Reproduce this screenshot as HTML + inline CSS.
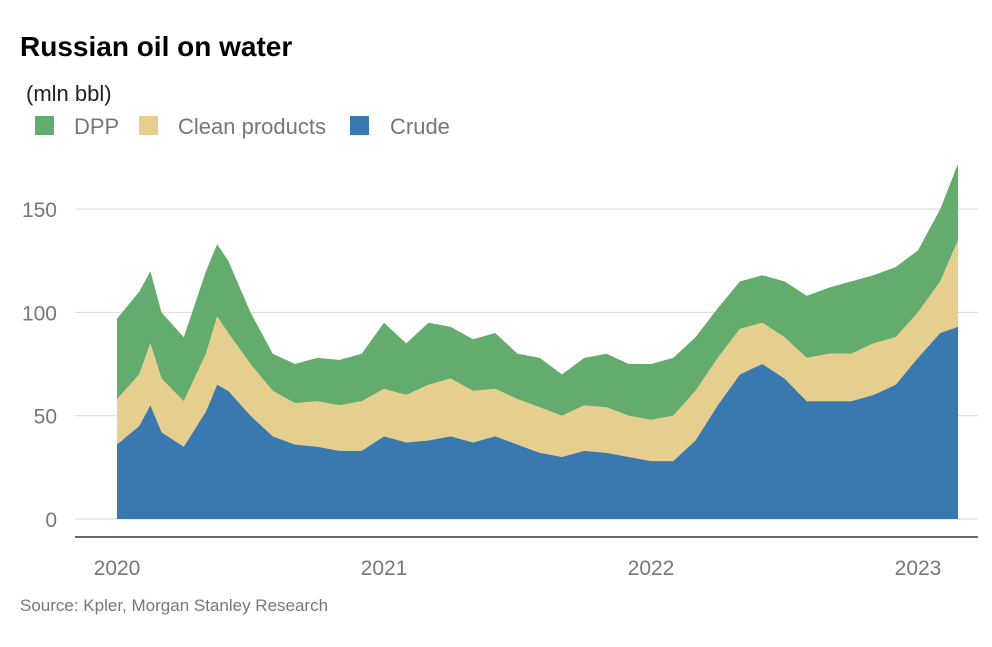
<!DOCTYPE html>
<html><head><meta charset="utf-8"><style>
body{margin:0;background:#fff;font-family:"Liberation Sans",sans-serif;}
svg text{font-family:"Liberation Sans",sans-serif;}
</style></head><body>
<svg width="992" height="642" viewBox="0 0 992 642" id="c">
<text x="20" y="56" font-size="28" font-weight="bold" fill="#000">Russian oil on water</text>
<text x="26" y="101" font-size="22" fill="#222">(mln bbl)</text>
<g>
<rect x="35" y="116" width="19" height="19" fill="#64ab6e"/>
<text x="74" y="134" font-size="22" fill="#777">DPP</text>
<rect x="139" y="116" width="19" height="19" fill="#e6cf8e"/>
<text x="178" y="134" font-size="22" fill="#777">Clean products</text>
<rect x="350" y="116" width="19" height="19" fill="#3a78b0"/>
<text x="390" y="134" font-size="22" fill="#777">Crude</text>
</g>
<g id="grid"></g>
<g id="areas"></g>
<line x1="75" y1="537" x2="978" y2="537" stroke="#666" stroke-width="2"/>
<g id="xt"></g>
<text x="20" y="611" font-size="17" fill="#777">Source: Kpler, Morgan Stanley Research</text>
</svg>
<script>
const months=[0,1,1.5,2,3,4,4.5,5,6,7,8,9,10,11,12,13,14,15,16,17,18,19,20,21,22,23,24,25,26,27,28,29,30,31,32,33,34,35,36,37,37.8];
const crude=[36,45,55,42,35,52,65,62,50,40,36,35,33,33,40,37,38,40,37,40,36,32,30,33,32,30,28,28,38,55,70,75,68,57,57,57,60,65,78,90,93];
const clean=[22,25,30,26,22,28,33,28,25,22,20,22,22,24,23,23,27,28,25,23,22,22,20,22,22,20,20,22,24,23,22,20,20,21,23,23,25,23,22,25,42];
const dpp=[39,40,35,32,31,40,35,35,25,18,19,21,22,23,32,25,30,25,25,27,22,24,20,23,26,25,27,28,26,24,23,23,27,30,32,35,33,34,30,35,37];
const yTicks=[0,50,100,150];
const years=["2020","2021","2022","2023"];
const x=m=>117+m*22.25, y=v=>519-v*2.066;
const ns="http://www.w3.org/2000/svg";
const grid=document.getElementById('grid');
yTicks.forEach(t=>{
 const l=document.createElementNS(ns,'line');
 l.setAttribute('x1',75);l.setAttribute('x2',978);l.setAttribute('y1',y(t));l.setAttribute('y2',y(t));
 l.setAttribute('stroke','#d8d8d8');l.setAttribute('stroke-width','1');
 
 
 grid.appendChild(l);
 const tx=document.createElementNS(ns,'text');
 tx.setAttribute('x',57);tx.setAttribute('y',y(t)+8);tx.setAttribute('text-anchor','end');
 tx.setAttribute('font-size','21');tx.setAttribute('fill','#777');tx.textContent=t;
 
 
 grid.appendChild(tx);
});
const xt=document.getElementById('xt');
years.forEach((yr,i)=>{
 const tx=document.createElementNS(ns,'text');
 tx.setAttribute('x',x(i*12));tx.setAttribute('y',575);tx.setAttribute('text-anchor','middle');
 tx.setAttribute('font-size','21');tx.setAttribute('fill','#777');tx.textContent=yr;
 
 
 xt.appendChild(tx);
});
const s1=crude, s2=crude.map((v,i)=>v+clean[i]), s3=s2.map((v,i)=>v+dpp[i]);
const areas=document.getElementById('areas');
function area(top,bot,color,name){
 let d='M'+months.map((m,i)=>x(m)+','+y(top[i])).join('L');
 for(let i=months.length-1;i>=0;i--)d+='L'+x(months[i])+','+y(bot?bot[i]:0);
 d+='Z';
 const p=document.createElementNS(ns,'path');
 p.setAttribute('d',d);p.setAttribute('fill',color);
 
 
 areas.appendChild(p);
}
area(s3,s2,'#64ab6e','dpp-area');
area(s2,s1,'#e6cf8e','clean-products-area');
area(s1,null,'#3a78b0','crude-area');
</script>
</body></html>
